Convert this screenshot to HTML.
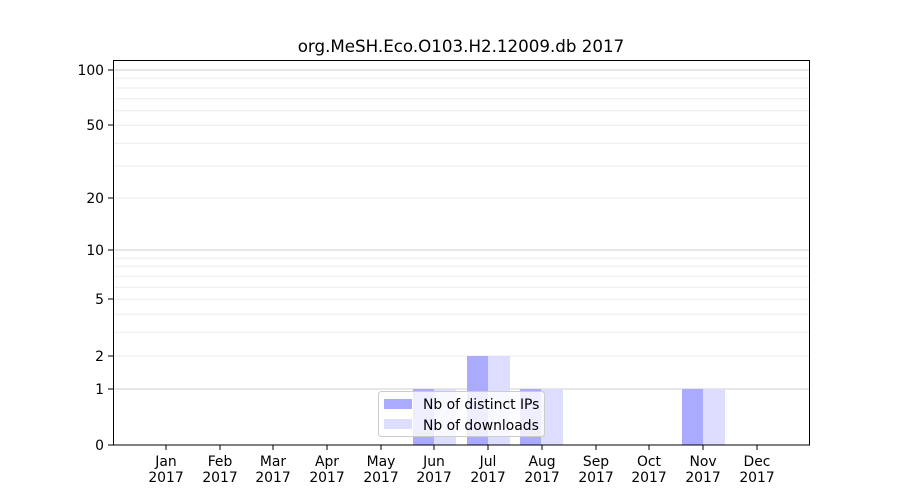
<!DOCTYPE html>
<html><head><meta charset="utf-8"><style>body{margin:0;background:#fff}svg{display:block}</style></head>
<body>
<svg width="900" height="500" xmlns="http://www.w3.org/2000/svg" font-family="DejaVu Sans, Liberation Sans, sans-serif">
<rect width="900" height="500" fill="#fff"/>
<g stroke-width="1">
<g stroke="#ebebeb">
<line x1="113" x2="810" y1="356" y2="356"/>
<line x1="113" x2="810" y1="332.3" y2="332.3"/>
<line x1="113" x2="810" y1="314.3" y2="314.3"/>
<line x1="113" x2="810" y1="299.3" y2="299.3"/>
<line x1="113" x2="810" y1="287.3" y2="287.3"/>
<line x1="113" x2="810" y1="276.3" y2="276.3"/>
<line x1="113" x2="810" y1="266.3" y2="266.3"/>
<line x1="113" x2="810" y1="258.3" y2="258.3"/>
<line x1="113" x2="810" y1="198" y2="198"/>
<line x1="113" x2="810" y1="166" y2="166"/>
<line x1="113" x2="810" y1="143.3" y2="143.3"/>
<line x1="113" x2="810" y1="125.3" y2="125.3"/>
<line x1="113" x2="810" y1="110.7" y2="110.7"/>
<line x1="113" x2="810" y1="98.7" y2="98.7"/>
<line x1="113" x2="810" y1="88" y2="88"/>
<line x1="113" x2="810" y1="78.3" y2="78.3"/>
</g>
<g stroke="#cfcfcf">
<line x1="113" x2="810" y1="389" y2="389"/>
<line x1="113" x2="810" y1="250" y2="250"/>
<line x1="113" x2="810" y1="70" y2="70"/>
</g>
</g>
<g>
<rect x="413" y="389" width="21" height="56" fill="#aaaaff"/>
<rect x="434" y="389" width="22" height="56" fill="#ddddff"/>
<rect x="467" y="356" width="21" height="89" fill="#aaaaff"/>
<rect x="488" y="356" width="22" height="89" fill="#ddddff"/>
<rect x="520" y="389" width="21" height="56" fill="#aaaaff"/>
<rect x="541" y="389" width="22" height="56" fill="#ddddff"/>
<rect x="682" y="389" width="21" height="56" fill="#aaaaff"/>
<rect x="703" y="389" width="22" height="56" fill="#ddddff"/>
</g>
<rect x="113.5" y="60.5" width="696" height="384.5" fill="none" stroke="#000"/>
<g stroke="#000">
<line x1="108" x2="113" y1="445" y2="445"/><line x1="108" x2="113" y1="389" y2="389"/>
<line x1="108" x2="113" y1="356" y2="356"/><line x1="108" x2="113" y1="299" y2="299"/>
<line x1="108" x2="113" y1="250" y2="250"/><line x1="108" x2="113" y1="198" y2="198"/>
<line x1="108" x2="113" y1="125" y2="125"/><line x1="108" x2="113" y1="70" y2="70"/>
</g>
<g font-size="13.9" text-anchor="end" fill="#000">
<text x="104" y="450">0</text><text x="104" y="394">1</text><text x="104" y="361">2</text>
<text x="104" y="304">5</text><text x="104" y="255">10</text><text x="104" y="203">20</text>
<text x="104" y="130">50</text><text x="104" y="75">100</text>
</g>
<g stroke="#000">
<line x1="166" x2="166" y1="445" y2="450"/><line x1="220" x2="220" y1="445" y2="450"/>
<line x1="273" x2="273" y1="445" y2="450"/><line x1="327" x2="327" y1="445" y2="450"/>
<line x1="381" x2="381" y1="445" y2="450"/><line x1="434" x2="434" y1="445" y2="450"/>
<line x1="488" x2="488" y1="445" y2="450"/><line x1="542" x2="542" y1="445" y2="450"/>
<line x1="596" x2="596" y1="445" y2="450"/><line x1="649" x2="649" y1="445" y2="450"/>
<line x1="703" x2="703" y1="445" y2="450"/><line x1="757" x2="757" y1="445" y2="450"/>
</g>
<g font-size="13.9" text-anchor="middle" fill="#000">
<text x="166" y="466">Jan</text><text x="166" y="482">2017</text>
<text x="220" y="466">Feb</text><text x="220" y="482">2017</text>
<text x="273" y="466">Mar</text><text x="273" y="482">2017</text>
<text x="327" y="466">Apr</text><text x="327" y="482">2017</text>
<text x="381" y="466">May</text><text x="381" y="482">2017</text>
<text x="434" y="466">Jun</text><text x="434" y="482">2017</text>
<text x="488" y="466">Jul</text><text x="488" y="482">2017</text>
<text x="542" y="466">Aug</text><text x="542" y="482">2017</text>
<text x="596" y="466">Sep</text><text x="596" y="482">2017</text>
<text x="649" y="466">Oct</text><text x="649" y="482">2017</text>
<text x="703" y="466">Nov</text><text x="703" y="482">2017</text>
<text x="757" y="466">Dec</text><text x="757" y="482">2017</text>
</g>
<text x="461" y="52" font-size="16.7" text-anchor="middle">org.MeSH.Eco.O103.H2.12009.db 2017</text>
<rect x="378.5" y="391.5" width="166" height="45" rx="3" fill="#fff" fill-opacity="0.8" stroke="#ccc"/>
<rect x="384" y="399" width="28" height="10" fill="#aaaaff"/>
<rect x="384" y="419" width="28" height="10" fill="#ddddff"/>
<text x="423" y="409" font-size="13.9">Nb of distinct IPs</text>
<text x="423" y="430" font-size="13.9">Nb of downloads</text>
</svg>
</body></html>
